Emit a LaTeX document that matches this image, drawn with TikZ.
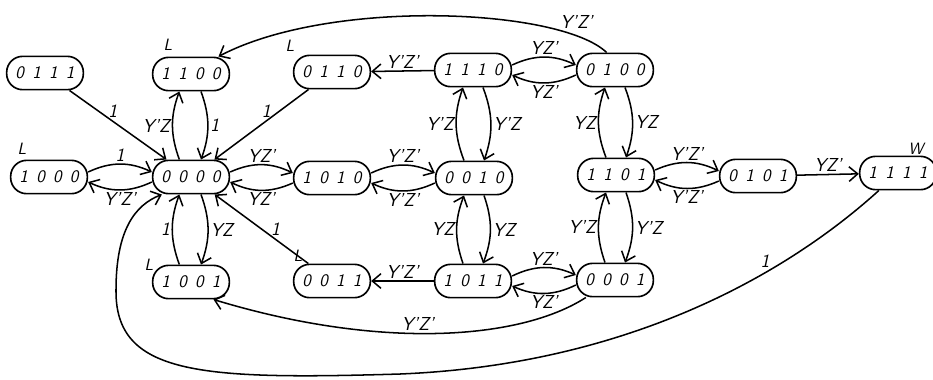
\documentclass[tikz,border=0pt]{standalone}
\usetikzlibrary{arrows.meta,calc}
\newcommand\dg[4]{#1\hskip7pt#2\hskip7pt#3\hskip7pt#4}
\begin{document}
\begin{tikzpicture}[x=0.03cm,y=-0.03cm,
  st/.style={draw, line width=1.4pt, rounded corners=0.48cm, minimum width=2.3cm,
    minimum height=1cm, inner sep=0pt, font=\fontsize{15}{17}\selectfont\sffamily\slshape},
  tr/.style={line width=1.3pt, -{Straight Barb[length=2.6mm,width=4.4mm]}},
  lb/.style={font=\fontsize{16}{18}\selectfont\sffamily\slshape, inner sep=1.5pt},
  tag/.style={font=\fontsize{14}{16}\selectfont\sffamily\slshape, inner sep=0pt}
]
\useasboundingbox (0,0) rectangle (933,379);
% states
\node[st] (n0111) at (45,73) {\dg0111};
\node[st] (n1100) at (191,74) {\dg1100};
\node[st] (n0110) at (332,72) {\dg0110};
\node[st] (n1110) at (473,70) {\dg1110};
\node[st] (n0100) at (615,70) {\dg0100};
\node[st] (n1000) at (49,177) {\dg1000};
\node[st] (n0000) at (191,177) {\dg0000};
\node[st] (n1010) at (332,178) {\dg1010};
\node[st] (n0010) at (474,178) {\dg0010};
\node[st] (n1101) at (616,175) {\dg1101};
\node[st] (n0101) at (758,176) {\dg0101};
\node[st] (n1111) at (898,173) {\dg1111};
\node[st] (n1001) at (191,282) {\dg1001};
\node[st] (n0011) at (332,281) {\dg0011};
\node[st] (n1011) at (473,281) {\dg1011};
\node[st] (n0001) at (615,280) {\dg0001};
% tags
\node[tag] (t1) at (168,45) {L};
\node[tag] (t2) at (290,46) {L};
\node[tag] (t3) at (22,149) {L};
\node[tag] (t4) at (149,265) {L};
\node[tag] (t5) at (298,256) {L};
\node[tag] (t6) at (916,149) {W};
% straight transitions
\draw[tr] (n0111) -- node[lb, pos=0.4, above right=-2pt] {1} (n0000);
\draw[tr] (n0110) -- node[lb, pos=0.4, above left=-2pt] {1} (n0000);
\draw[tr] (n0011) -- node[lb, pos=0.4, above right=-2pt] {1} (n0000);
\draw[tr] (n1110) -- node[lb, above] {Y'Z'} (n0110);
\draw[tr] (n1011) -- node[lb, above] {Y'Z'} (n0011);
\draw[tr] (n0101) -- node[lb, above] {YZ'} (n1111);
% horizontal pairs
\draw[tr] ([yshift=0.15cm]n1000.east) to[bend left=25] node[lb,above]{1} ([yshift=0.15cm]n0000.west);
\draw[tr] ([yshift=-0.15cm]n0000.west) to[bend left=25] node[lb,below]{Y'Z'} ([yshift=-0.15cm]n1000.east);
\draw[tr] ([yshift=0.15cm]n0000.east) to[bend left=25] node[lb,above]{YZ'} ([yshift=0.15cm]n1010.west);
\draw[tr] ([yshift=-0.15cm]n1010.west) to[bend left=25] node[lb,below]{YZ'} ([yshift=-0.15cm]n0000.east);
\draw[tr] ([yshift=0.15cm]n1010.east) to[bend left=25] node[lb,above]{Y'Z'} ([yshift=0.15cm]n0010.west);
\draw[tr] ([yshift=-0.15cm]n0010.west) to[bend left=25] node[lb,below]{Y'Z'} ([yshift=-0.15cm]n1010.east);
\draw[tr] ([yshift=0.15cm]n1110.east) to[bend left=25] node[lb,above]{YZ'} ([yshift=0.15cm]n0100.west);
\draw[tr] ([yshift=-0.15cm]n0100.west) to[bend left=25] node[lb,below]{YZ'} ([yshift=-0.15cm]n1110.east);
\draw[tr] ([yshift=0.15cm]n1101.east) to[bend left=25] node[lb,above]{Y'Z'} ([yshift=0.15cm]n0101.west);
\draw[tr] ([yshift=-0.15cm]n0101.west) to[bend left=25] node[lb,below]{Y'Z'} ([yshift=-0.15cm]n1101.east);
\draw[tr] ([yshift=0.15cm]n1011.east) to[bend left=25] node[lb,above]{YZ'} ([yshift=0.15cm]n0001.west);
\draw[tr] ([yshift=-0.15cm]n0001.west) to[bend left=25] node[lb,below]{YZ'} ([yshift=-0.15cm]n1011.east);
% vertical pairs
\draw[tr] ([xshift=-0.35cm]n0000.north) to[bend left=20] node[lb,left]{Y'Z} ([xshift=-0.35cm]n1100.south);
\draw[tr] ([xshift=0.3cm]n1100.south) to[bend left=20] node[lb,right]{1} ([xshift=0.3cm]n0000.north);
\draw[tr] ([xshift=-0.3cm]n0010.north) to[bend left=20] node[lb,left]{Y'Z} ([xshift=-0.3cm]n1110.south);
\draw[tr] ([xshift=0.3cm]n1110.south) to[bend left=20] node[lb,right]{Y'Z} ([xshift=0.3cm]n0010.north);
\draw[tr] ([xshift=-0.3cm]n1101.north) to[bend left=20] node[lb,left]{YZ} ([xshift=-0.3cm]n0100.south);
\draw[tr] ([xshift=0.3cm]n0100.south) to[bend left=20] node[lb,right]{YZ} ([xshift=0.3cm]n1101.north);
\draw[tr] ([xshift=-0.35cm]n1001.north) to[bend left=20] node[lb,left]{1} ([xshift=-0.35cm]n0000.south);
\draw[tr] ([xshift=0.3cm]n0000.south) to[bend left=20] node[lb,right]{YZ} ([xshift=0.3cm]n1001.north);
\draw[tr] ([xshift=-0.3cm]n1011.north) to[bend left=20] node[lb,left]{YZ} ([xshift=-0.3cm]n0010.south);
\draw[tr] ([xshift=0.3cm]n0010.south) to[bend left=20] node[lb,right]{YZ} ([xshift=0.3cm]n1011.north);
\draw[tr] ([xshift=-0.3cm]n0001.north) to[bend left=20] node[lb,left]{Y'Z} ([xshift=-0.3cm]n1101.south);
\draw[tr] ([xshift=0.3cm]n1101.south) to[bend left=20] node[lb,right]{Y'Z} ([xshift=0.3cm]n0001.north);
% long arcs
\draw[tr] ([xshift=-0.25cm]n0100.north) .. controls (560,8) and (330,-2) .. node[lb, pos=0.2, above right=-1pt]{Y'Z'} ([xshift=-0.35cm]n1100.north east);
\draw[tr] ([xshift=0.6cm]n1111.south west) .. controls (780,280) and (620,365) .. (400,374)
  .. controls (200,380) and (115,375) .. (116,290)
  .. controls (116,230) and (135,205) .. ([xshift=0.3cm]n0000.south west);
\node[lb] (l1) at (765,261) {1};
\draw[tr] ([xshift=0.3cm]n0001.south west) .. controls (520,340) and (380,350) .. node[lb, pos=0.55, above]{Y'Z'} ([xshift=-0.5cm]n1001.south east);
\end{tikzpicture}
\end{document}
